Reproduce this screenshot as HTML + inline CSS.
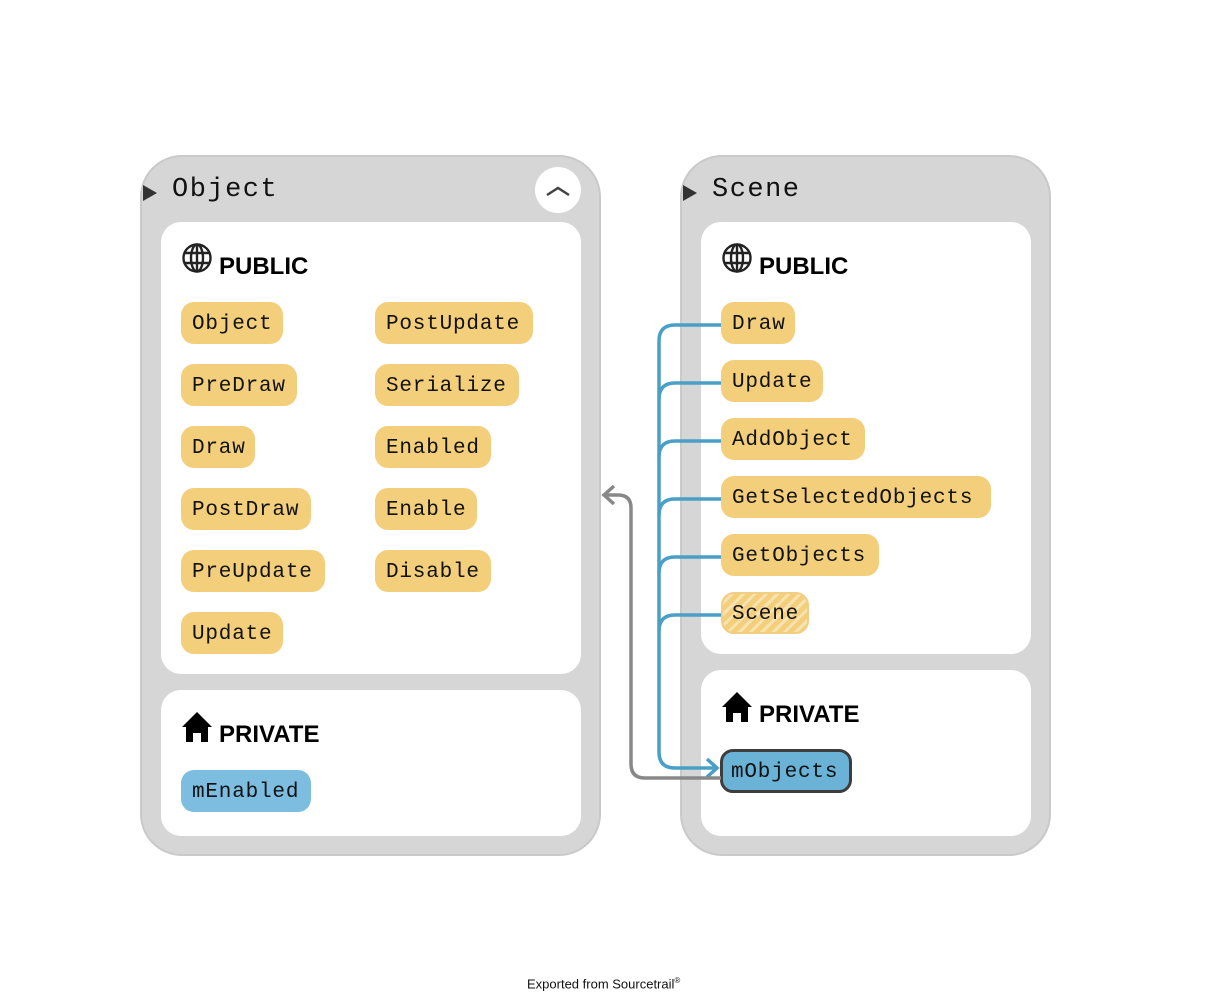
<!DOCTYPE html>
<html><head><meta charset="utf-8"><style>
*{margin:0;padding:0;box-sizing:border-box}
body{width:1212px;height:1002px;background:#fff;position:relative;overflow:hidden;font-family:"Liberation Sans",sans-serif}
.box{position:absolute;background:#d6d6d6;border:2px solid #c9c9c9;border-radius:42px}
.sec{position:absolute;background:#fff;border-radius:20px}
.title{position:absolute;font-family:"Liberation Mono",monospace;font-size:27px;letter-spacing:1.5px;color:#111;line-height:32px}
.tri{position:absolute;width:0;height:0;border-top:8px solid transparent;border-bottom:8px solid transparent;border-left:14px solid #333}
.hdr{position:absolute;font-weight:bold;font-size:24px;color:#000;line-height:28px}
.p{position:absolute;height:42px;border-radius:13px;background:#f3cf7c;font-family:"Liberation Mono",monospace;font-size:21px;letter-spacing:0.8px;color:#111;line-height:46px;padding-left:11px;white-space:nowrap}
.b{background:#7dbde0}
</style></head><body>
<div class="box" style="left:140px;top:155px;width:461px;height:701px"></div>
<div class="box" style="left:680px;top:155px;width:371px;height:701px"></div>
<div class="sec" style="left:161px;top:222px;width:420px;height:452px"></div>
<div class="sec" style="left:161px;top:690px;width:420px;height:146px"></div>
<div class="sec" style="left:701px;top:222px;width:330px;height:432px"></div>
<div class="sec" style="left:701px;top:670px;width:330px;height:166px"></div>
<div class="tri" style="left:143px;top:185px"></div>
<div class="tri" style="left:683px;top:185px"></div>
<div class="title" style="left:172px;top:174px">Object</div>
<div class="title" style="left:712px;top:174px">Scene</div>
<div style="position:absolute;left:535px;top:167px;width:46px;height:46px;border-radius:50%;background:#fff"></div>
<div class="hdr" style="left:219px;top:253px">PUBLIC</div>
<div class="hdr" style="left:219px;top:721px">PRIVATE</div>
<div class="hdr" style="left:759px;top:253px">PUBLIC</div>
<div class="hdr" style="left:759px;top:701px">PRIVATE</div>

<div class="p" style="left:181px;top:302px;width:102px">Object</div>
<div class="p" style="left:181px;top:364px;width:116px">PreDraw</div>
<div class="p" style="left:181px;top:426px;width:74px">Draw</div>
<div class="p" style="left:181px;top:488px;width:130px">PostDraw</div>
<div class="p" style="left:181px;top:550px;width:144px">PreUpdate</div>
<div class="p" style="left:181px;top:612px;width:102px">Update</div>
<div class="p" style="left:375px;top:302px;width:158px">PostUpdate</div>
<div class="p" style="left:375px;top:364px;width:144px">Serialize</div>
<div class="p" style="left:375px;top:426px;width:116px">Enabled</div>
<div class="p" style="left:375px;top:488px;width:102px">Enable</div>
<div class="p" style="left:375px;top:550px;width:116px">Disable</div>
<div class="p b" style="left:181px;top:770px;width:130px">mEnabled</div>

<div class="p" style="left:721px;top:302px;width:74px">Draw</div>
<div class="p" style="left:721px;top:360px;width:102px">Update</div>
<div class="p" style="left:721px;top:418px;width:144px">AddObject</div>
<div class="p" style="left:721px;top:476px;width:270px">GetSelectedObjects</div>
<div class="p" style="left:721px;top:534px;width:158px">GetObjects</div>
<div class="p" style="left:721px;top:592px;width:88px;border:2px solid #f0cf85;line-height:42px;padding-left:9px;background:repeating-linear-gradient(135deg,#f3cf7c 0 5px,#f8e2b0 5px 8px)">Scene</div>
<div class="p" style="left:720px;top:749px;width:132px;height:44px;border:3px solid #3d3d3d;background:#6ab2d6;line-height:42px;padding-left:8px">mObjects</div>

<svg width="1212" height="1002" style="position:absolute;left:0;top:0" xmlns="http://www.w3.org/2000/svg">
<path d="M547 195 L558 188 L569 195" fill="none" stroke="#444" stroke-width="2.5"/>
<g fill="none" stroke="#4a9fc6" stroke-width="3.5">
<path d="M721 325 H675 Q659 325 659 341 V752 Q659 768 675 768 H716"/>
<path d="M721 383 H675 Q659 383 659 399"/>
<path d="M721 441 H675 Q659 441 659 457"/>
<path d="M721 499 H675 Q659 499 659 515"/>
<path d="M721 557 H675 Q659 557 659 573"/>
<path d="M721 615 H675 Q659 615 659 631"/>
<path d="M707 759 L717 768 L707 777"/>
</g>
<g fill="none" stroke="#888" stroke-width="3.5">
<path d="M721 778 H645 Q631 778 631 764 V508 Q631 495 618 495 H605"/>
<path d="M614 486 L604 495 L614 504"/>
</g>
<g fill="none" stroke="#222" stroke-width="2.4">
<circle cx="197" cy="258" r="13.5"/><ellipse cx="197" cy="258" rx="6" ry="13.5"/>
<path d="M184 253 H210 M184 263 H210 M197 245 V271"/>
<circle cx="737" cy="258" r="13.5"/><ellipse cx="737" cy="258" rx="6" ry="13.5"/>
<path d="M724 253 H750 M724 263 H750 M737 245 V271"/>
</g>
<g fill="#000">
<path d="M197 712 L182 727 L186 727 L186 742 L193 742 L193 733 L201 733 L201 742 L208 742 L208 727 L212 727 Z"/>
<path d="M737 692 L722 707 L726 707 L726 722 L733 722 L733 713 L741 713 L741 722 L748 722 L748 707 L752 707 Z"/>
</g>
</svg>
<div style="position:absolute;left:527px;top:976px;font-family:'Liberation Sans',sans-serif;font-size:13px;color:#111">Exported from Sourcetrail<sup style="font-size:8px">®</sup></div>
</body></html>
